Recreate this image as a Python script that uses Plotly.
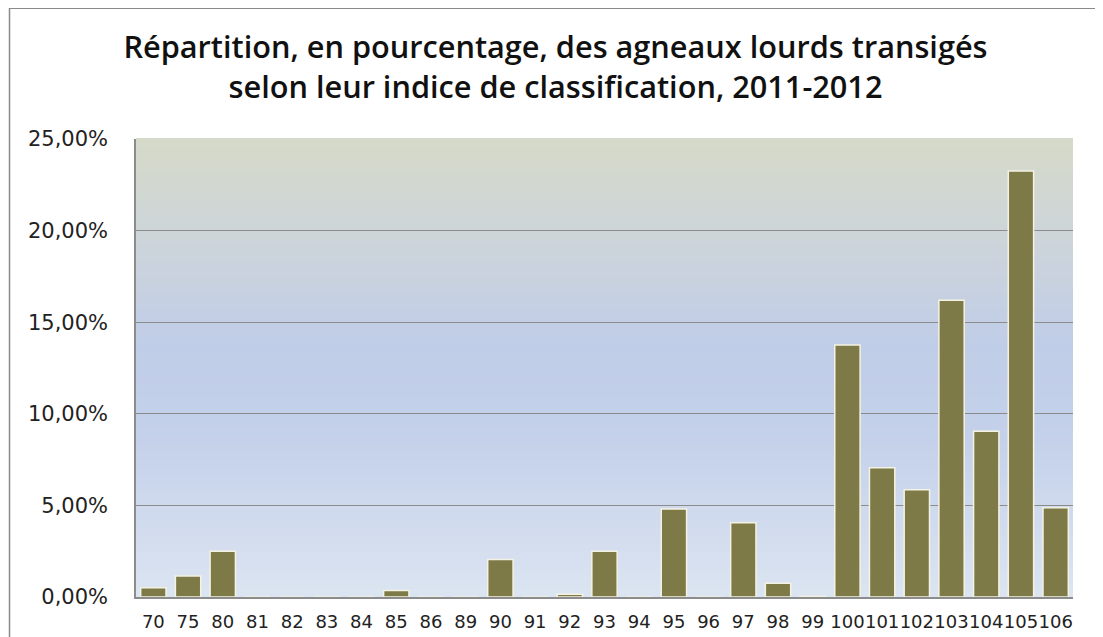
import plotly.graph_objects as go

# indice de classification (catégories)
indices = ["70", "75", "80", "81", "82", "83", "84", "85", "86", "89", "90", "91", "92",
           "93", "94", "95", "96", "97", "98", "99", "100", "101", "102", "103", "104",
           "105", "106"]
# pourcentage des agneaux transigés
pourcentages = [0.5, 1.15, 2.5, 0, 0, 0, 0, 0.35, 0, 0, 2.05, 0, 0.15,
                2.5, 0, 4.8, 0, 4.05, 0.75, 0.03, 13.75, 7.05, 5.85, 16.2, 9.05,
                23.25, 4.87]
y_ticks = [0, 5, 10, 15, 20, 25]
y_labels = ["0,00%", "5,00%", "10,00%", "15,00%", "20,00%", "25,00%"]

titre = ("Répartition, en pourcentage, des agneaux lourds transigés<br>"
         "selon leur indice de classification, 2011-2012")

fig = go.Figure()
fig.add_trace(go.Bar(
    x=indices, y=pourcentages,
    marker=dict(color="#7e7a48", line=dict(color="#f4f2e2", width=1.5)),
))

# gradient background (top greenish grey -> blue -> pale blue)
stops = [(0.0, (220, 228, 241)), (0.35, (196, 209, 234)), (0.55, (192, 205, 232)),
         (0.8, (206, 213, 216)), (1.0, (214, 218, 201))]
shapes = []
n = 60
for i in range(n):
    t = (i + 0.5) / n
    for (a, ca), (b, cb) in zip(stops[:-1], stops[1:]):
        if a <= t <= b:
            f = (t - a) / (b - a)
            c = tuple(int(round(ca[k] + (cb[k] - ca[k]) * f)) for k in range(3))
            break
    shapes.append(dict(type="rect", xref="x domain", yref="y domain",
                       x0=0, x1=1, y0=i / n, y1=(i + 1) / n + 0.002,
                       fillcolor="rgb(%d,%d,%d)" % c, line=dict(width=0), layer="below"))

# outer frame
shapes.append(dict(type="rect", xref="paper", yref="paper",
                   x0=-0.135, x1=1.2, y0=-0.5, y1=1.2855,
                   line=dict(color="#8a8a8a", width=1.5), fillcolor="rgba(0,0,0,0)"))

# page body has an 8px margin, so the figure is 8px smaller than the window
fig.update_layout(
    width=1095, height=629,
    margin=dict(l=128, r=30, t=131, b=40),
    paper_bgcolor="white",
    plot_bgcolor="rgba(0,0,0,0)",
    showlegend=False,
    bargap=0.27,
    shapes=shapes,
    title=dict(text=titre, x=0.5, xanchor="center", y=0.921, yanchor="middle",
               font=dict(family="Open Sans", size=30.7, weight=600, color="#111111")),
)
fig.update_yaxes(
    range=[0, 25], tickvals=y_ticks, ticktext=y_labels, automargin=False,
    showgrid=True, gridcolor="#8c8c8c", gridwidth=1,
    showline=True, linecolor="#8c8c8c", linewidth=1.5,
    zeroline=False, ticks="", ticklabelstandoff=22,
    tickfont=dict(family="DejaVu Sans", size=21, color="#222222"),
)
fig.update_xaxes(
    type="category", tickangle=0, automargin=False,
    showline=True, linecolor="#8c8c8c", linewidth=1.5,
    ticks="", ticklabelstandoff=8,
    tickfont=dict(family="DejaVu Sans", size=18, color="#222222"),
)

fig.write_html("out.html")
